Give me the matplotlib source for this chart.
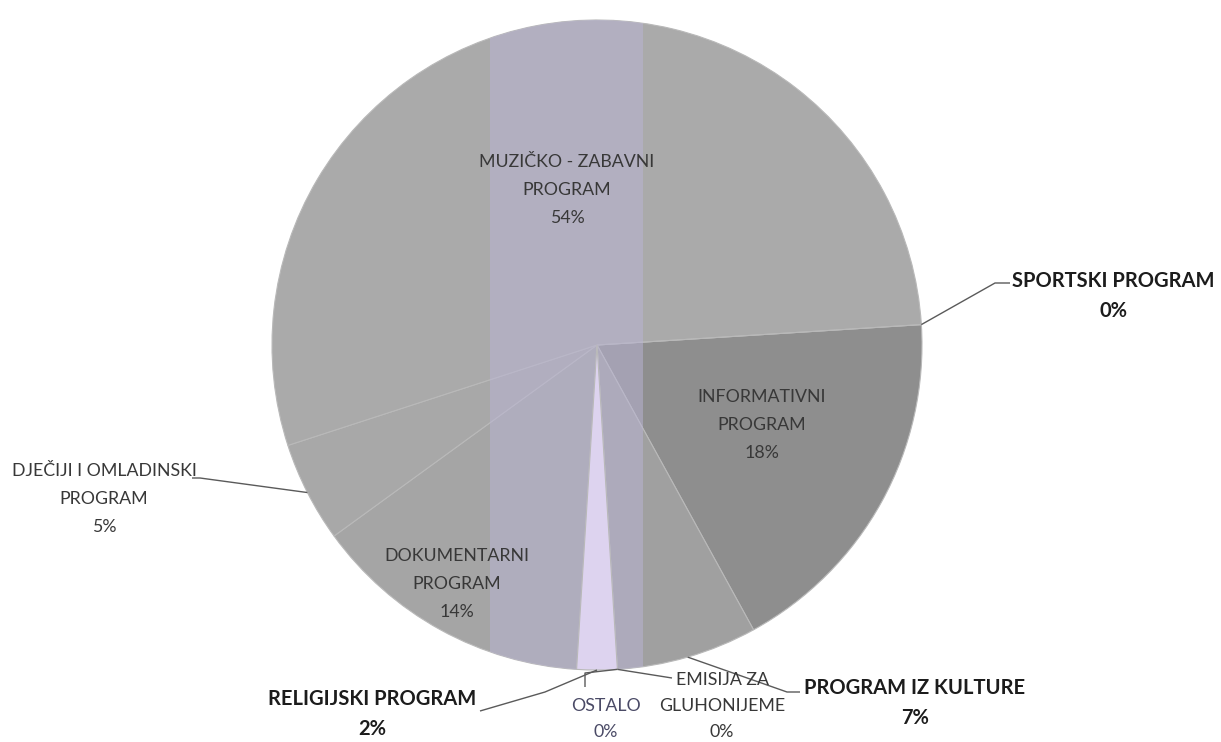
import numpy as np
import matplotlib
matplotlib.use("Agg")
import matplotlib.pyplot as plt
from matplotlib.patches import Rectangle, Circle

# ---- data ----
categories = ["INFORMATIVNI PROGRAM", "PROGRAM IZ KULTURE", "EMISIJA ZA GLUHONIJEME",
              "OSTALO", "RELIGIJSKI PROGRAM", "DOKUMENTARNI PROGRAM",
              "DJEČIJI I OMLADINSKI PROGRAM", "MUZIČKO - ZABAVNI PROGRAM", "SPORTSKI PROGRAM"]
values = [18, 7, 0, 0, 2, 14, 5, 54, 0]
label_texts = ["INFORMATIVNI\nPROGRAM", "PROGRAM IZ KULTURE", "EMISIJA ZA\nGLUHONIJEME",
               "OSTALO", "RELIGIJSKI PROGRAM", "DOKUMENTARNI\nPROGRAM",
               "DJEČIJI I OMLADINSKI\nPROGRAM", "MUZIČKO - ZABAVNI\nPROGRAM", "SPORTSKI PROGRAM"]
colors = ["#8e8e8e", "#a0a0a0", "#a0a0a0", "#a5a5a5", "#ddd3ef",
          "#a5a5a5", "#a8a8a8", "#aaaaaa", "#b0b0b0"]

W, H = 1221, 742
fig = plt.figure(figsize=(W / 100, H / 100), dpi=100)
ax = fig.add_axes([0, 0, 1, 1])

def Y(y):
    return H - y

cx, cy, R = 597, Y(345), 325
wedges, _ = ax.pie(values, colors=colors, startangle=3.6, counterclock=False,
                   center=(cx, cy), radius=R,
                   wedgeprops=dict(edgecolor="#b9b9b9", linewidth=0.8))
ax.set_xlim(0, W)
ax.set_ylim(0, H)
ax.set_aspect("equal")
ax.axis("off")

# scan-like lavender band across the pie
clip = Circle((cx, cy), R, transform=ax.transData)
band = Rectangle((490, 0), 153, H, facecolor="#bab5d6", alpha=0.5, zorder=1.5, lw=0)
ax.add_patch(band)
band.set_clip_path(clip)
wedges[4].set_zorder(2)

FONT = ["Lato", "DejaVu Sans"]
inner_col = "#383838"
bold_col = "#1c1c1c"

def edge_point(w, frac=1.0):
    a = np.deg2rad((w.theta1 + w.theta2) / 2)
    return cx + R * frac * np.cos(a), cy + R * frac * np.sin(a)

# label positions (image coords) and styles
layout = {
    0: dict(pos=(762, 425), bold=False, col=inner_col),
    1: dict(pos=(915, 703), bold=True, col=bold_col),
    2: dict(pos=(722, 706), bold=False, col=inner_col),
    3: dict(pos=(606, 719), bold=False, col="#4a4a66"),
    4: dict(pos=(372, 714), bold=True, col=bold_col),
    5: dict(pos=(457, 584), bold=False, col=inner_col),
    6: dict(pos=(104, 499), bold=False, col=inner_col),
    7: dict(pos=(567, 190), bold=False, col=inner_col),
    8: dict(pos=(1113, 296), bold=True, col=bold_col),
}
for i, (lab, v) in enumerate(zip(label_texts, values)):
    L = layout[i]
    txt = f"{lab}\n{v}%"
    if L["bold"]:
        fs, ls, fw = 14.5, 1.57, "bold"
    else:
        fs, ls, fw = 12.8, 1.95, "normal"
    if i == 2:
        ls = 1.75
    if i == 3:
        ls = 1.8
    ax.text(L["pos"][0], Y(L["pos"][1]), txt, ha="center", va="center",
            fontsize=fs, family=FONT, fontweight=fw,
            color=L["col"], linespacing=ls, zorder=5)

line_kw = dict(color="#5a5a5a", lw=1.0, zorder=4, solid_capstyle="butt")
# leader lines: pie-edge point computed from wedge, other end at label
def leader(i, pts):
    ex, ey = edge_point(wedges[i])
    xs = [ex] + [p[0] for p in pts]
    ys = [ey] + [Y(p[1]) for p in pts]
    ax.plot(xs, ys, **line_kw)

leader(8, [(995, 283), (1010, 283)])
leader(6, [(200, 478), (192, 478)])
leader(1, [(787, 692), (800, 692)])
leader(2, [(672, 678)])
leader(3, [(585, 673), (585, 687)])
leader(4, [(545, 692), (480, 711)])

fig.savefig("out.png", dpi=100, facecolor="white")
